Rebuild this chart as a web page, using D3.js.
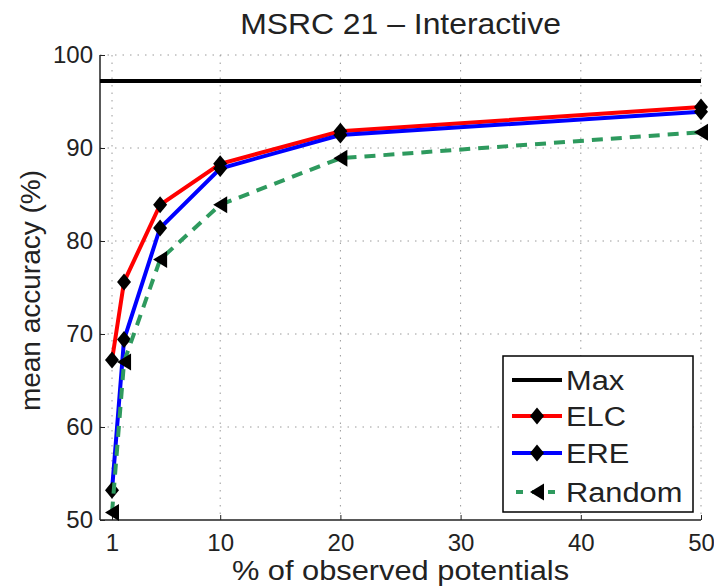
<!DOCTYPE html>
<html>
<head>
<meta charset="utf-8">
<script src="https://cdn.jsdelivr.net/npm/d3@7"></script>
<style>
  body { margin: 0; background: #fff; }
  svg { font-family: "Liberation Sans", Arial, sans-serif; }
</style>
</head>
<body>
<div id="chart"></div>
<script>
// data
const xValues = [1, 2, 5, 10, 20, 50];
const maxValue = 97.2;
const elcValues = [67.2, 75.6, 83.9, 88.3, 91.8, 94.4];
const ereValues = [53.2, 69.4, 81.4, 87.8, 91.4, 93.9];
const randomValues = [50.8, 67.0, 78.0, 83.9, 88.9, 91.7];
const xTicks = [1, 10, 20, 30, 40, 50];
const yTicks = [50, 60, 70, 80, 90, 100];
const seriesNames = ["Max", "ELC", "ERE", "Random"];

const svgWidth = 714;
const svgHeight = 587;

const margin = { top: 55, right: 13, bottom: 67, left: 100 };
const chartWidth = svgWidth - margin.left - margin.right;
const chartHeight = svgHeight - margin.top - margin.bottom;

// the reference text looks a bit stretched sideways
const stretch = 1.1;

const svg = d3.select("#chart").append("svg")
    .attr("width", svgWidth)
    .attr("height", svgHeight);

svg.append("rect")
    .attr("width", svgWidth)
    .attr("height", svgHeight)
    .attr("fill", "#fff");

const chartG = svg.append("g")
    .attr("transform", `translate(${margin.left}, ${margin.top})`);

const x = d3.scaleLinear().domain([0, 50]).range([0, chartWidth]);
const y = d3.scaleLinear().domain([50, 100]).range([chartHeight, 0]);

// dotted grid
const grid = chartG.append("g").attr("class", "grid");
grid.selectAll("line.gx")
    .data(xTicks)
    .enter().append("line")
    .attr("x1", d => x(d)).attr("x2", d => x(d))
    .attr("y1", 0).attr("y2", chartHeight)
    .attr("stroke", "#9a9a9a")
    .attr("stroke-width", 1)
    .attr("stroke-dasharray", "1.5,6");
grid.selectAll("line.gy")
    .data(yTicks.filter(d => d > 50))
    .enter().append("line")
    .attr("x1", 0).attr("x2", chartWidth)
    .attr("y1", d => y(d)).attr("y2", d => y(d))
    .attr("stroke", "#9a9a9a")
    .attr("stroke-width", 1)
    .attr("stroke-dasharray", "1.5,6");

// axes (ticks pointing inward)
const xAxis = d3.axisBottom(x).tickValues(xTicks).tickSize(-5).tickPadding(14);
const yAxis = d3.axisLeft(y).tickValues(yTicks).tickSize(-5).tickPadding(7);

const xAxisG = chartG.append("g")
    .attr("transform", `translate(0, ${chartHeight})`)
    .call(xAxis);
const yAxisG = chartG.append("g").call(yAxis);

[xAxisG, yAxisG].forEach(g => {
    g.select(".domain").attr("stroke", "#222").attr("stroke-width", 1.5);
    g.selectAll(".tick line").attr("stroke", "#222").attr("stroke-width", 1);
    g.selectAll(".tick text")
        .attr("font-size", 24)
        .attr("fill", "#222")
        .attr("font-family", "Liberation Sans, Arial, sans-serif");
});
xAxisG.select(".domain").attr("d", `M0,0H${chartWidth}`);
yAxisG.select(".domain").attr("d", `M0,0V${chartHeight}`);

// marker shapes
const diamond = (w, h) => `M0,${-h}L${w},0L0,${h}L${-w},0Z`;
const triLeft = (w, h) => `M${-w},0L${w},${-h}L${w},${h}Z`;

const series = [
    { name: "ELC", values: elcValues, color: "#ff0000", dash: null, marker: diamond(7, 8.5) },
    { name: "ERE", values: ereValues, color: "#0000ff", dash: null, marker: diamond(7, 8.5) },
    { name: "Random", values: randomValues, color: "#2e9a5e", dash: "11,8", marker: triLeft(7, 8.5) }
];

const line = d3.line()
    .x(d => x(d[0]))
    .y(d => y(d[1]));

// Max line
chartG.append("line")
    .attr("x1", x(0)).attr("x2", x(50))
    .attr("y1", y(maxValue)).attr("y2", y(maxValue))
    .attr("stroke", "#000")
    .attr("stroke-width", 4);

series.forEach(s => {
    const pts = xValues.map((v, i) => [v, s.values[i]]);
    chartG.append("path")
        .datum(pts)
        .attr("d", line)
        .attr("fill", "none")
        .attr("stroke", s.color)
        .attr("stroke-width", 4)
        .attr("stroke-dasharray", s.dash);
    chartG.selectAll(null)
        .data(pts)
        .enter().append("path")
        .attr("d", s.marker)
        .attr("transform", d => `translate(${x(d[0])}, ${y(d[1])})`)
        .attr("fill", "#000");
});

// title and axis labels
svg.append("text")
    .attr("transform", `translate(${margin.left + chartWidth / 2}, 34) scale(${stretch}, 1)`)
    .attr("text-anchor", "middle")
    .attr("font-size", 29)
    .attr("fill", "#222")
    .text("MSRC 21 \u2013 Interactive");

svg.append("text")
    .attr("transform", `translate(${margin.left + chartWidth / 2}, 580) scale(${stretch}, 1)`)
    .attr("text-anchor", "middle")
    .attr("font-size", 28)
    .attr("fill", "#222")
    .text("% of observed potentials");

svg.append("text")
    .attr("transform", `translate(40, ${margin.top + chartHeight / 2 + 3}) rotate(-90)`)
    .attr("text-anchor", "middle")
    .attr("font-size", 28)
    .attr("fill", "#222")
    .text("mean accuracy (%)");

// legend
const legend = svg.append("g").attr("transform", "translate(503, 356)");
legend.append("rect")
    .attr("width", 190)
    .attr("height", 156)
    .attr("fill", "#fff")
    .attr("stroke", "#000")
    .attr("stroke-width", 1.5);

const legendItems = [
    { name: seriesNames[0], color: "#000", dash: null, marker: null },
    ...series
];
const rowY = [24, 60, 97, 136];
legendItems.forEach((s, i) => {
    const row = legend.append("g").attr("transform", `translate(0, ${rowY[i]})`);
    row.append("line")
        .attr("x1", 9).attr("x2", 59)
        .attr("stroke", s.color)
        .attr("stroke-width", 4)
        .attr("stroke-dasharray", s.dash ? "7,9" : null)
        .attr("stroke-dashoffset", s.dash ? -4 : null);
    if (s.marker) {
        row.append("path")
            .attr("d", s.marker)
            .attr("transform", "translate(34, 0)")
            .attr("fill", "#000");
    }
    row.append("text")
        .attr("transform", `translate(63, 10) scale(${stretch}, 1)`)
        .attr("font-size", 28)
        .attr("fill", "#222")
        .text(s.name);
});
</script>
</body>
</html>
